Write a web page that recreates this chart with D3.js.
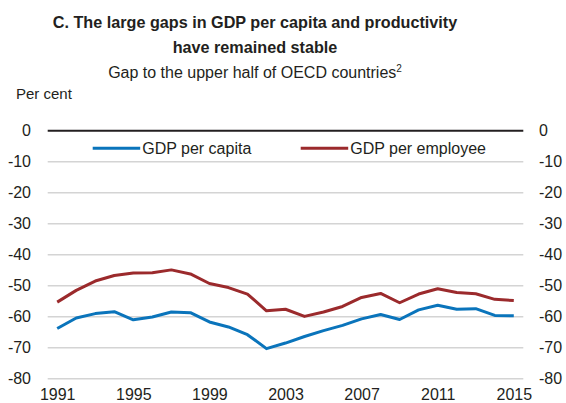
<!DOCTYPE html>
<html lang="en">
<head>
    <meta charset="UTF-8">
    <title>GDP gaps</title>
    <script src="https://d3js.org/d3.v7.min.js"></script>
    <style>
        body { margin: 0; background: #fff; }
        text { font-family: "Liberation Sans", Arial, sans-serif; fill: #231f20; }
        .title { font-family: "Liberation Sans Narrow", "Arial Narrow", "Liberation Sans", sans-serif; font-weight: bold; }
    </style>
</head>
<body>
<div id="chart"></div>
<script>
    // Data
    const years = d3.range(1991, 2016);
    const gdpPerCapita = [-63.8, -60.4, -59.0, -58.4, -61.0, -60.1, -58.5, -58.7, -61.7, -63.3, -65.8,
        -70.3, -68.5, -66.4, -64.5, -62.8, -60.7, -59.3, -60.9, -57.8, -56.3, -57.6, -57.4, -59.6, -59.7];
    const gdpPerEmployee = [-55.3, -51.5, -48.5, -46.7, -45.9, -45.8, -44.9, -46.2, -49.3, -50.6, -52.7,
        -58.1, -57.6, -59.9, -58.5, -56.7, -53.8, -52.5, -55.5, -52.7, -51.0, -52.2, -52.6, -54.4, -54.8];
    const yTicks = [0, -10, -20, -30, -40, -50, -60, -70, -80];
    const xTickYears = [1991, 1995, 1999, 2003, 2007, 2011, 2015];

    const width = 566, height = 403;
    const svg = d3.select("#chart").append("svg")
        .attr("width", width)
        .attr("height", height);

    const x = d3.scalePoint()
        .domain(years)
        .range([47.7, 523.3])
        .padding(0.5);

    const y = d3.scaleLinear()
        .domain([-80, 0])
        .range([378.7, 130.7]);

    // plain hyphen for negatives, as in the original
    const fmt = d => String(d);

    // Titles
    svg.append("text").attr("class", "title")
        .attr("x", 255).attr("y", 27.5)
        .attr("text-anchor", "middle").style("font-size", "16.2px")
        .text("C. The large gaps in GDP per capita and productivity");
    svg.append("text").attr("class", "title")
        .attr("x", 255).attr("y", 53)
        .attr("text-anchor", "middle").style("font-size", "16.2px")
        .text("have remained stable");
    const sub = svg.append("text")
        .attr("x", 255).attr("y", 78)
        .attr("text-anchor", "middle").style("font-size", "16px")
        .text("Gap to the upper half of OECD countries");
    sub.append("tspan").attr("dy", -6).style("font-size", "10px").text("2");

    svg.append("text")
        .attr("x", 16).attr("y", 99)
        .style("font-size", "15px")
        .text("Per cent");

    // Gridlines
    svg.append("g").selectAll("line")
        .data(yTicks)
        .join("line")
        .attr("x1", 47.7).attr("x2", 523.3)
        .attr("y1", d => y(d)).attr("y2", d => y(d))
        .attr("stroke", d => d === 0 ? "#231f20" : "#d4d4d4")
        .attr("stroke-width", d => d === 0 ? 2 : 1.5);

    // Y axes, left and right
    const yAxisLeft = d3.axisLeft(y).tickValues(yTicks).tickFormat(fmt).tickSize(0).tickPadding(0);
    svg.append("g")
        .attr("transform", "translate(31,0)")
        .call(yAxisLeft)
        .call(g => g.select(".domain").remove())
        .selectAll("text").style("font-size", "16px").attr("fill", "#231f20");

    const yAxisRight = d3.axisRight(y).tickValues(yTicks).tickFormat(fmt).tickSize(0).tickPadding(0);
    svg.append("g")
        .attr("transform", "translate(539,0)")
        .call(yAxisRight)
        .call(g => g.select(".domain").remove())
        .selectAll("text").style("font-size", "16px").attr("fill", "#231f20");

    // X axis labels
    const xAxis = d3.axisBottom(x).tickValues(xTickYears).tickFormat(fmt).tickSize(0).tickPadding(0);
    svg.append("g")
        .attr("transform", "translate(0,389)")
        .call(xAxis)
        .call(g => g.select(".domain").remove())
        .selectAll("text").style("font-size", "16px").attr("fill", "#231f20");

    // Lines
    const line = d3.line()
        .x((d, i) => x(years[i]))
        .y(d => y(d));

    const series = [
        {name: "GDP per capita", values: gdpPerCapita, color: "#0a74bb", lx: 92.7},
        {name: "GDP per employee", values: gdpPerEmployee, color: "#9b2a2c", lx: 300.7}
    ];

    series.forEach(s => {
        svg.append("path")
            .datum(s.values)
            .attr("fill", "none")
            .attr("stroke", s.color)
            .attr("stroke-width", 3)
            .attr("stroke-linejoin", "round")
            .attr("d", line);
    });

    // Legend
    series.forEach(s => {
        svg.append("line")
            .attr("x1", s.lx).attr("x2", s.lx + 47.5)
            .attr("y1", 148.3).attr("y2", 148.3)
            .attr("stroke", s.color).attr("stroke-width", 3);
        svg.append("text")
            .attr("x", s.lx + 49.5).attr("y", 154)
            .style("font-size", "16px")
            .text(s.name);
    });
</script>
</body>
</html>
